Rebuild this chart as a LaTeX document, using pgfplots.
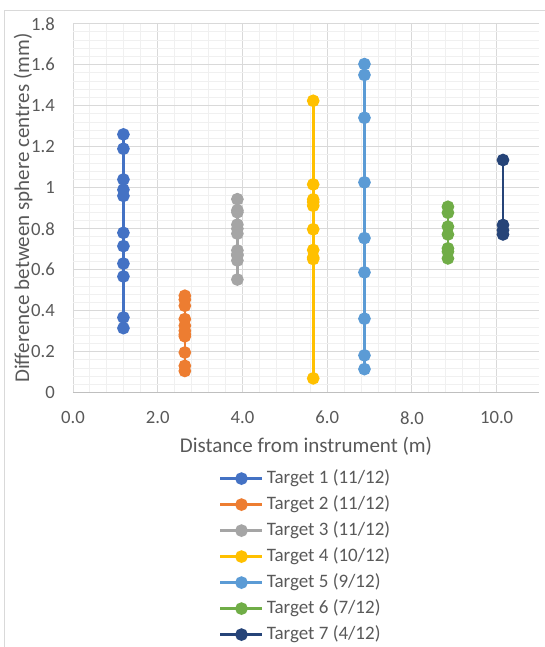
\documentclass[border=0pt]{standalone}
\usepackage{pgfplots}
\pgfplotsset{compat=1.18}
\usepackage{fontspec}
\setmainfont{Carlito}
\definecolor{txt}{HTML}{595959}
\definecolor{majg}{HTML}{D9D9D9}
\definecolor{ming}{HTML}{F0F0F0}
\definecolor{axg}{HTML}{BFBFBF}
\definecolor{cA}{HTML}{4472C4}
\definecolor{cB}{HTML}{ED7D31}
\definecolor{cC}{HTML}{A5A5A5}
\definecolor{cD}{HTML}{FFC000}
\definecolor{cE}{HTML}{5B9BD5}
\definecolor{cF}{HTML}{70AD47}
\definecolor{cG}{HTML}{264478}
\begin{document}
\begin{tikzpicture}
\useasboundingbox (0,0) rectangle (545pt,647pt);
\draw[majg, line width=1pt] (4.5pt,0) -- (4.5pt,636.3pt) -- (545pt,636.3pt);
\begin{axis}[
  at={(73pt,254.3pt)}, anchor=south west,
  scale only axis, width=466pt, height=369pt,
  xmin=0, xmax=11, ymin=0, ymax=1.8,
  xtick={0,2,4,6,8,10}, ytick={0,0.2,0.4,0.6,0.8,1,1.2,1.4,1.6,1.8},
  minor x tick num=4, minor y tick num=4,
  grid=both,
  major grid style={majg, line width=0.9pt},
  minor grid style={ming, line width=0.9pt},
  axis x line*=bottom, axis y line*=left,
  x axis line style={axg, line width=1pt, -},
  y axis line style={draw=none},
  tick style={draw=none},
  major tick length=0pt, minor tick length=0pt,
  /pgf/number format/assume math mode=true,
  xticklabel style={/pgf/number format/fixed, /pgf/number format/fixed zerofill, /pgf/number format/precision=1, anchor=center, yshift=-25pt, inner sep=0pt, font=\fontsize{18.7}{22}\selectfont, text=txt},
  yticklabel style={/pgf/number format/fixed, anchor=east, xshift=-18pt, inner sep=0pt, font=\fontsize{18.7}{22}\selectfont, text=txt},
  xlabel={Distance from instrument (m)},
  ylabel={Difference between sphere centres (mm)},
  xlabel style={at={(axis description cs:0.5,-0.145)}, anchor=center, inner sep=0pt, font=\fontsize{21}{25}\selectfont, text=txt},
  ylabel style={at={(axis description cs:-0.107,0.5)}, anchor=center, inner sep=0pt, font=\fontsize{21}{25}\selectfont, text=txt},
  clip=false,
  every axis plot/.append style={line width=2.6pt, mark=*, mark size=5pt, mark options={line width=0pt}},
  legend cell align=left,
  legend image code/.code={\draw[#1, mark repeat=2, mark phase=2] plot coordinates {(0pt,0pt) (21pt,0pt) (42pt,0pt)};},
  legend style={at={(axis description cs:0.3133,-0.2065)}, anchor=north west, draw=none, fill=none,
    inner sep=0pt, row sep=7pt, font=\fontsize{19}{22}\selectfont, text=txt,
    nodes={inner xsep=3pt, inner ysep=0pt, text height=14pt, text depth=5pt}},
]
\addplot[cA, mark options={fill=cA}] coordinates {(1.19,1.26)(1.19,1.19)(1.19,1.04)(1.19,0.99)(1.19,0.96)(1.19,0.78)(1.19,0.715)(1.19,0.63)(1.19,0.567)(1.19,0.367)(1.19,0.315)};
\addlegendentry{Target 1 (11/12)}
\addplot[cB, mark options={fill=cB}] coordinates {(2.64,0.473)(2.64,0.454)(2.64,0.424)(2.64,0.359)(2.64,0.327)(2.64,0.302)(2.64,0.285)(2.64,0.275)(2.64,0.196)(2.64,0.131)(2.64,0.106)};
\addlegendentry{Target 2 (11/12)}
\addplot[cC, mark options={fill=cC}] coordinates {(3.88,0.944)(3.88,0.89)(3.88,0.88)(3.88,0.82)(3.88,0.80)(3.88,0.776)(3.88,0.694)(3.88,0.675)(3.88,0.669)(3.88,0.645)(3.88,0.552)};
\addlegendentry{Target 3 (11/12)}
\addplot[cD, mark options={fill=cD}] coordinates {(5.67,1.424)(5.67,1.016)(5.67,0.943)(5.67,0.93)(5.67,0.912)(5.67,0.797)(5.67,0.696)(5.67,0.66)(5.67,0.652)(5.67,0.070)};
\addlegendentry{Target 4 (10/12)}
\addplot[cE, mark options={fill=cE}] coordinates {(6.88,1.603)(6.88,1.550)(6.88,1.341)(6.88,1.026)(6.88,0.754)(6.88,0.587)(6.88,0.361)(6.88,0.182)(6.88,0.115)};
\addlegendentry{Target 5 (9/12)}
\addplot[cF, mark options={fill=cF}] coordinates {(8.85,0.907)(8.85,0.878)(8.85,0.810)(8.85,0.772)(8.85,0.704)(8.85,0.688)(8.85,0.655)};
\addlegendentry{Target 6 (7/12)}
\addplot[cG, mark options={fill=cG}] coordinates {(10.15,1.135)(10.15,0.818)(10.15,0.793)(10.15,0.772)};
\addlegendentry{Target 7 (4/12)}
\end{axis}
\end{tikzpicture}
\end{document}
